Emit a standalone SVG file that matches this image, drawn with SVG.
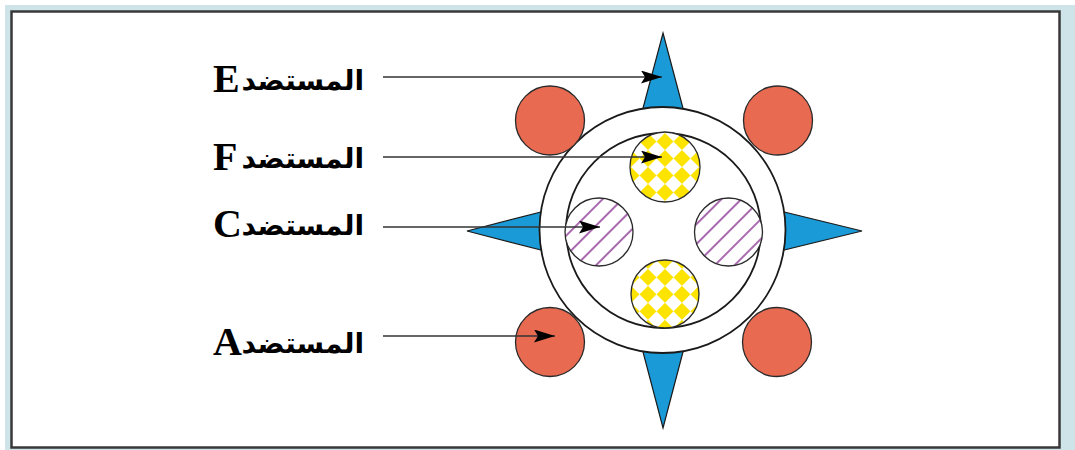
<svg xmlns="http://www.w3.org/2000/svg" width="1075" height="450" viewBox="0 0 1075 450">
<style>
.lbl{font-family:"Liberation Serif","DejaVu Serif",serif;font-weight:bold;font-size:40px;fill:#000}
.ar{font-family:"DejaVu Sans","Liberation Serif",sans-serif;font-weight:bold;font-size:28px;fill:#000}
.blue{fill:#1a9bd7;stroke:#1a1a1a;stroke-width:1.2}
.red{fill:#e86a51;stroke:#2a2a2a;stroke-width:1.3}
.ring{fill:#fff;stroke:#1a1a1a;stroke-width:1.8}
.yel{fill:url(#chk);stroke:#2a2a2a;stroke-width:1.3}
.pur{fill:url(#hatch);stroke:#2a2a2a;stroke-width:1.3}
.conn{stroke:#333;stroke-width:1.7;fill:none;marker-end:url(#ah)}
</style>
<defs>
<pattern id="chk" width="24" height="24" patternUnits="userSpaceOnUse" patternTransform="translate(665,167) rotate(45)">
<rect width="24" height="24" fill="#fff"/>
<rect width="12" height="12" fill="#fde300"/>
<rect x="12" y="12" width="12" height="12" fill="#fde300"/>
</pattern>
<pattern id="hatch" width="14" height="14" patternUnits="userSpaceOnUse" patternTransform="rotate(45)">
<rect width="14" height="14" fill="#fff"/>
<line x1="7" y1="0" x2="7" y2="14" stroke="#9a4fa0" stroke-width="1.7"/>
</pattern>
<marker id="ah" markerWidth="22" markerHeight="13" refX="21" refY="6.5" orient="auto" markerUnits="userSpaceOnUse">
<path d="M0,0 L21,6.5 L0,13 L4,6.5 Z" fill="#000"/>
</marker>
</defs>
<rect x="0" y="0" width="1075" height="450" fill="#fff"/>
<rect x="5" y="5" width="1070" height="445" fill="#cfe4e8"/>
<rect x="11.5" y="11.5" width="1048" height="436" fill="#fff" stroke="#383838" stroke-width="2.5"/>

<g id="spikes">
<polygon class="blue" points="663,33 684,112 642,112"/>
<polygon class="blue" points="663,428 684,348 642,348"/>
<polygon class="blue" points="467,231 545,211 545,251"/>
<polygon class="blue" points="862,231 780,211 780,251"/>
</g>
<g id="outer-ring"><circle class="ring" cx="662.5" cy="230" r="123"/></g>
<g id="inner-ring"><circle class="ring" cx="663.5" cy="230.5" r="97.5"/></g>
<g id="red-tl"><circle class="red" cx="550" cy="120.5" r="34.5"/></g>
<g id="red-tr"><circle class="red" cx="778" cy="120.5" r="34.5"/></g>
<g id="red-bl"><circle class="red" cx="550" cy="342" r="34.5"/></g>
<g id="red-br"><circle class="red" cx="777" cy="342" r="34.5"/></g>
<g id="yellow-top"><circle class="yel" cx="665" cy="167" r="35"/></g>
<g id="yellow-bottom"><circle class="yel" cx="665" cy="294" r="34"/></g>
<g id="purple-left"><circle class="pur" cx="599" cy="232" r="34"/></g>
<g id="purple-right"><circle class="pur" cx="728.5" cy="232" r="34"/></g>

<g id="label-E"><text class="lbl" x="213" y="92">E</text><text class="ar" x="364" y="90" text-anchor="end">المستضد</text></g>
<g id="label-F"><text class="lbl" x="213" y="170">F</text><text class="ar" x="364" y="168" text-anchor="end">المستضد</text></g>
<g id="label-C"><text class="lbl" x="213" y="237">C</text><text class="ar" x="364" y="235" text-anchor="end">المستضد</text></g>
<g id="label-A"><text class="lbl" x="213" y="355">A</text><text class="ar" x="364" y="353" text-anchor="end">المستضد</text></g>

<g id="connectors">
<line class="conn" x1="383" y1="77" x2="662" y2="77"/>
<line class="conn" x1="383" y1="157" x2="662" y2="157"/>
<line class="conn" x1="383" y1="227" x2="600" y2="227"/>
<line class="conn" x1="383" y1="336" x2="555" y2="336"/>
</g>
</svg>
